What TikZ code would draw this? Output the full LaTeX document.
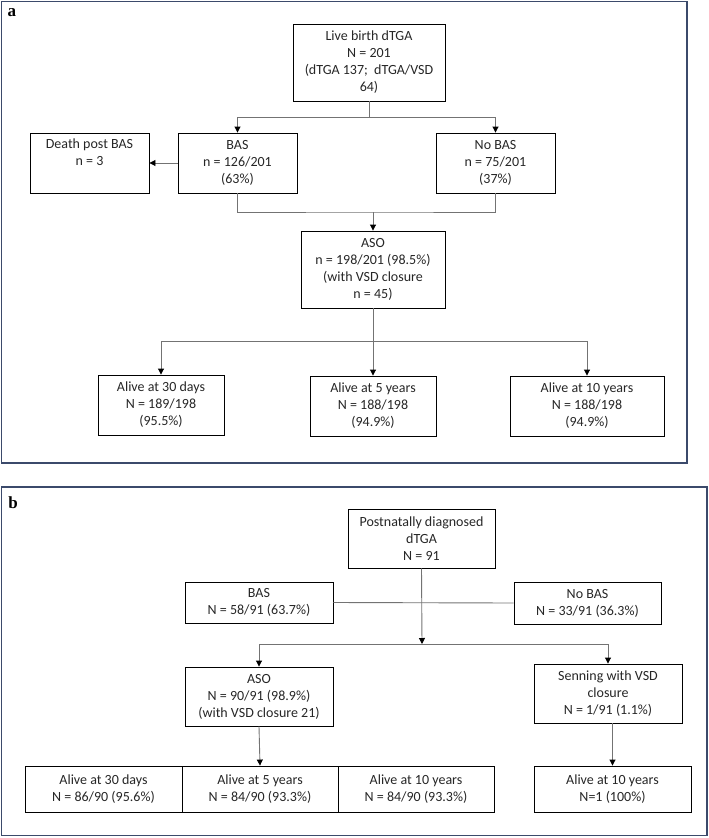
\documentclass[tikz,border=0pt]{standalone}
\usepackage{fontspec}
\setmainfont{Carlito}
\newfontfamily\panelfont{Liberation Serif}
\usepackage{xcolor}
\usetikzlibrary{arrows.meta,positioning}
\definecolor{frame}{HTML}{3B4A6B}
\definecolor{ink}{HTML}{262626}

\begin{document}
\begin{tikzpicture}[
  x=1pt, y=-1pt,
  box/.style={draw=black,line width=0.9pt,align=center,inner sep=0pt,
    font=\fontsize{14}{17}\selectfont,text=ink},
  txt/.style={align=center,inner sep=0pt,font=\fontsize{14}{17}\selectfont,text=ink},
  panel/.style={draw=frame,line width=1.6pt},
  tag/.style={font=\panelfont\bfseries\fontsize{17}{17}\selectfont,text=black},
  conn/.style={draw=black!55,line width=0.9pt},
  arr/.style={conn,-{Triangle[length=6pt,width=6pt,black]}}
]
  \useasboundingbox (0,0) rectangle (709,838);

  % panel a
  \draw[panel] (1.5,1.5) rectangle (687,463);
  \node[tag] (taga) at (12,13) {a};
  \node[box,minimum width=152pt,minimum height=77pt] (live) at (369,62.5)
    {Live birth dTGA\\N = 201\\(dTGA 137;~ dTGA/VSD\\64)};
  \node[box,minimum width=119pt,minimum height=60pt] (death) at (89.5,163) {};
  \node[txt,below=6pt of death.north] (deathtxt) {Death post BAS\\n = 3};
  \node[box,minimum width=119pt,minimum height=60pt] (bas) at (237.5,163)
    {BAS\\n = 126/201\\(63\%)};
  \node[box,minimum width=119pt,minimum height=60pt] (nobas) at (495.5,163)
    {No BAS\\n = 75/201\\(37\%)};
  \node[box,minimum width=144pt,minimum height=77pt] (aso) at (373,269.5)
    {ASO\\n = 198/201 (98.5\%)\\(with VSD closure\\n = 45)};
  \node[box,minimum width=126pt,minimum height=60pt] (alive30) at (161,405)
    {Alive at 30 days\\N = 189/198\\(95.5\%)};
  \node[box,minimum width=126pt,minimum height=60pt] (alive5) at (373,406)
    {Alive at 5 years\\N = 188/198\\(94.9\%)};
  \node[box,minimum width=154pt,minimum height=60pt] (alive10) at (587,406)
    {Alive at 10 years\\N = 188/198\\(94.9\%)};
  \coordinate (joina) at (373,212);
  \coordinate (splita) at (373,341);
  \draw[arr] (live.south) -- ++(0,16) -| (bas.north);
  \draw[arr] (live.south) -- ++(0,16) -| (nobas.north);
  \draw[arr] (bas.west) -- (death.east);
  \draw[conn] (bas.south) |- (joina) -| (nobas.south);
  \draw[arr] (joina) -- (aso.north);
  \draw[arr] (aso.south) -- (alive5.north);
  \draw[arr] (splita) -| (alive30.north);
  \draw[arr] (splita) -| (alive10.north);

  % panel b
  \draw[panel] (1.5,487) rectangle (707,835.5);
  \node[tag] (tagb) at (13,503) {b};
  \node[box,minimum width=147pt,minimum height=59pt] (post) at (421.5,538.5)
    {Postnatally diagnosed\\dTGA\\N = 91};
  \node[box,minimum width=148pt,minimum height=41pt] (basb) at (259,602.5)
    {BAS\\N = 58/91 (63.7\%)};
  \node[box,minimum width=147pt,minimum height=42pt] (nobasb) at (587.5,603)
    {No BAS\\N = 33/91 (36.3\%)};
  \node[box,minimum width=148pt,minimum height=59pt] (asob) at (259,696.5)
    {ASO\\N = 90/91 (98.9\%)\\(with VSD closure 21)};
  \node[box,minimum width=148pt,minimum height=59pt] (senn) at (608,693.5)
    {Senning with VSD\\closure\\N = 1/91 (1.1\%)};
  \node[box,minimum width=157pt,minimum height=46pt] (alive30b) at (103.5,789)
    {Alive at 30 days\\N = 86/90 (95.6\%)};
  \node[box,minimum width=156pt,minimum height=46pt] (alive5b) at (260,789)
    {Alive at 5 years\\N = 84/90 (93.3\%)};
  \node[box,minimum width=156pt,minimum height=46pt] (alive10b) at (416,789)
    {Alive at 10 years\\N = 84/90 (93.3\%)};
  \node[box,minimum width=157pt,minimum height=46pt] (alive10s) at (612.5,789)
    {Alive at 10 years\\N=1 (100\%)};
  \coordinate (splitb) at (422,644);
  \draw[conn] (basb.east) -- (nobasb.west);
  \draw[arr] (post.south) -- (splitb);
  \draw[arr] (splitb) -| (asob.north);
  \draw[arr] (splitb) -| (senn.north);
  \draw[arr] (asob.south) -- (alive5b.north);
  \draw[arr] (alive10s.north |- senn.south) -- (alive10s.north);
\end{tikzpicture}
\end{document}
